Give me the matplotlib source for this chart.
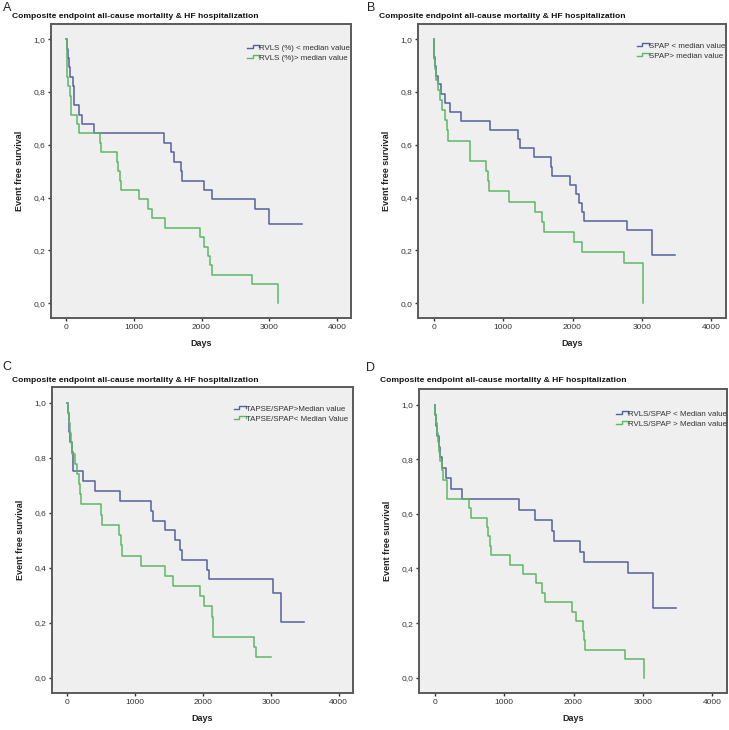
import matplotlib
matplotlib.use("Agg")
import matplotlib.pyplot as plt
from matplotlib.lines import Line2D
from matplotlib.legend_handler import HandlerBase

plt.rcParams['font.family'] = ['Liberation Sans', 'DejaVu Sans']

TITLE = "Composite endpoint all-cause mortality & HF hospitalization"
XLABEL = "Days"
YLABEL = "Event free survival"
xticks = [0, 1000, 2000, 3000, 4000]
yticks = [0.0, 0.2, 0.4, 0.6, 0.8, 1.0]
ytick_labels = ["0,0", "0,2", "0,4", "0,6", "0,8", "1,0"]

# ---- Panel A ----
a_blue_label = "RVLS (%) < median value"
a_blue_t = [0, 12, 25, 40, 50, 98, 113, 182, 236, 404, 1443, 1552, 1586, 1695, 1705, 2044, 2153, 2793, 3005, 3488]
a_blue_s = [1.0, 0.964, 0.929, 0.893, 0.857, 0.821, 0.75, 0.714, 0.679, 0.643, 0.607, 0.571, 0.536, 0.5, 0.464, 0.429, 0.393, 0.357, 0.298, 0.298]
a_green_label = "RVLS (%)> median value"
a_green_t = [0, 8, 15, 25, 50, 75, 162, 187, 497, 517, 754, 770, 790, 813, 1069, 1207, 1266, 1453, 1980, 2034, 2094, 2128, 2153, 2744, 3138, 3138]
a_green_s = [1.0, 0.929, 0.857, 0.821, 0.786, 0.714, 0.679, 0.643, 0.607, 0.571, 0.536, 0.5, 0.464, 0.429, 0.393, 0.357, 0.321, 0.286, 0.25, 0.214, 0.179, 0.143, 0.107, 0.071, 0.0, 0.0]

# ---- Panel B ----
b_blue_label = "SPAP < median value"
b_blue_t = [0, 10, 20, 35, 60, 100, 170, 230, 394, 816, 1210, 1248, 1440, 1690, 1705, 1968, 2045, 2088, 2140, 2160, 2784, 3144, 3480]
b_blue_s = [1.0, 0.931, 0.897, 0.862, 0.828, 0.793, 0.759, 0.724, 0.69, 0.655, 0.621, 0.586, 0.552, 0.517, 0.483, 0.448, 0.414, 0.379, 0.345, 0.31, 0.276, 0.184, 0.184]
b_green_label = "SPAP> median value"
b_green_t = [0, 8, 20, 40, 60, 90, 115, 170, 190, 205, 519, 530, 759, 780, 795, 1080, 1455, 1560, 1589, 2026, 2136, 2736, 3010, 3010]
b_green_s = [1.0, 0.923, 0.885, 0.846, 0.808, 0.769, 0.731, 0.692, 0.654, 0.615, 0.577, 0.538, 0.5, 0.462, 0.423, 0.385, 0.346, 0.308, 0.269, 0.231, 0.192, 0.154, 0.0, 0.0]

# ---- Panel C ----
c_blue_label = "TAPSE/SPAP>Median value"
c_blue_t = [0, 10, 20, 30, 45, 65, 87, 233, 403, 782, 1228, 1267, 1437, 1592, 1665, 1690, 2053, 2092, 3024, 3146, 3485]
c_blue_s = [1.0, 0.964, 0.929, 0.893, 0.857, 0.821, 0.75, 0.714, 0.679, 0.643, 0.607, 0.571, 0.536, 0.5, 0.464, 0.429, 0.393, 0.357, 0.306, 0.204, 0.204]
c_green_label = "TAPSE/SPAP< Median Value"
c_green_t = [0, 10, 20, 35, 50, 70, 121, 150, 175, 190, 209, 500, 515, 767, 791, 800, 1092, 1447, 1558, 1956, 2015, 2126, 2150, 2757, 2782, 3000]
c_green_s = [1.0, 0.963, 0.926, 0.889, 0.852, 0.815, 0.778, 0.741, 0.704, 0.667, 0.63, 0.593, 0.556, 0.519, 0.481, 0.444, 0.407, 0.37, 0.333, 0.296, 0.259, 0.222, 0.148, 0.111, 0.074, 0.074]

# ---- Panel D ----
d_blue_label = "RVLS/SPAP < Median value"
d_blue_t = [0, 12, 25, 40, 60, 80, 100, 159, 231, 399, 1216, 1447, 1697, 1712, 2096, 2154, 2779, 3139, 3476]
d_blue_s = [1.0, 0.962, 0.923, 0.885, 0.846, 0.808, 0.769, 0.731, 0.692, 0.654, 0.615, 0.577, 0.538, 0.5, 0.462, 0.423, 0.385, 0.256, 0.256]
d_green_label = "RVLS/SPAP > Median value"
d_green_t = [0, 8, 18, 30, 45, 60, 77, 100, 115, 173, 183, 495, 519, 750, 770, 793, 808, 1082, 1274, 1457, 1553, 1591, 1971, 2038, 2130, 2154, 2168, 2745, 3019, 3019]
d_green_s = [1.0, 0.966, 0.931, 0.897, 0.862, 0.828, 0.793, 0.759, 0.724, 0.69, 0.655, 0.621, 0.586, 0.552, 0.517, 0.483, 0.448, 0.414, 0.379, 0.345, 0.31, 0.276, 0.241, 0.207, 0.172, 0.138, 0.103, 0.069, 0.0, 0.0]

BLUE = "#56609e"
GREEN = "#5cb865"
FRAME = "#5a5a5a"
BG = "#efefef"

W, H = 729, 730
fig = plt.figure(figsize=(W / 100, H / 100), dpi=100)
fig.patch.set_facecolor("white")


class StepHandler(HandlerBase):
    def create_artists(self, legend, orig_handle, xdescent, ydescent, width, height, fontsize, trans):
        w, h = width, height
        xs = [-xdescent, -xdescent + 0.45 * w, -xdescent + 0.45 * w, -xdescent + w, -xdescent + w]
        ys = [-ydescent + 0.25 * h, -ydescent + 0.25 * h, -ydescent + 0.85 * h, -ydescent + 0.85 * h, -ydescent + 0.5 * h]
        ln = Line2D(xs, ys, color=orig_handle.get_color(), lw=1.0, transform=trans)
        return [ln]


def px_axes(l, r, t, b):
    return [l / W, 1 - b / H, (r - l) / W, (b - t) / H]


# letter position (x, y top), title (x, y center), legend (right x, top y) all in pixels
panels = [
    ("A", (51, 351, 24, 318), (3, 2), (12, 16), (350, 44),
     (a_blue_t, a_blue_s, a_blue_label), (a_green_t, a_green_s, a_green_label)),
    ("B", (418, 726, 24, 318), (367, 2), (379, 16), (725, 42),
     (b_blue_t, b_blue_s, b_blue_label), (b_green_t, b_green_s, b_green_label)),
    ("C", (52, 353, 387, 693), (2, 361), (12, 380), (348, 405),
     (c_blue_t, c_blue_s, c_blue_label), (c_green_t, c_green_s, c_green_label)),
    ("D", (419, 727, 389, 693), (366, 362), (380, 381), (727, 410),
     (d_blue_t, d_blue_s, d_blue_label), (d_green_t, d_green_s, d_green_label)),
]

for letter, (l, r, t, b), (lx, ly), (tx, ty), (gx, gy), blue, green in panels:
    ax = fig.add_axes(px_axes(l, r, t, b))
    ax.set_facecolor(BG)
    ax.step(blue[0], blue[1], where="post", color=BLUE, lw=1.1, label=blue[2])
    ax.step(green[0], green[1], where="post", color=GREEN, lw=1.1, label=green[2])
    ax.set_xlim(-225, 4210)
    ax.set_ylim(-0.056, 1.057)
    ax.set_xticks(xticks)
    ax.set_yticks(yticks)
    ax.set_yticklabels(ytick_labels)
    ax.tick_params(labelsize=6, colors="#333333", length=2.5, width=1.0, pad=1.5)
    for sp in ax.spines.values():
        sp.set_color(FRAME)
        sp.set_linewidth(1.4)
    ax.set_xlabel(XLABEL, fontsize=6.5, fontweight="bold", labelpad=6, color="#222222")
    ax.set_ylabel(YLABEL, fontsize=6.5, fontweight="bold", labelpad=7, color="#222222")
    fig.text(tx / W, 1 - ty / H, TITLE, fontsize=6.1, fontweight="bold",
             ha="left", va="center", color="#111111")
    fig.text(lx / W, 1 - ly / H, letter, fontsize=9, ha="left", va="top", color="#222222")
    handles = [Line2D([], [], color=BLUE), Line2D([], [], color=GREEN)]
    ax.legend(handles, [blue[2], green[2]], loc="upper right",
              bbox_to_anchor=((gx - l) / (r - l), 1 - (gy - t) / (b - t)),
              frameon=False, fontsize=5.7,
              handler_map={Line2D: StepHandler()}, handlelength=1.5, handletextpad=0.0,
              labelspacing=0.35, borderaxespad=0.0, borderpad=0.0, labelcolor="#333333")

fig.savefig("out.png", dpi=100, facecolor="white")
